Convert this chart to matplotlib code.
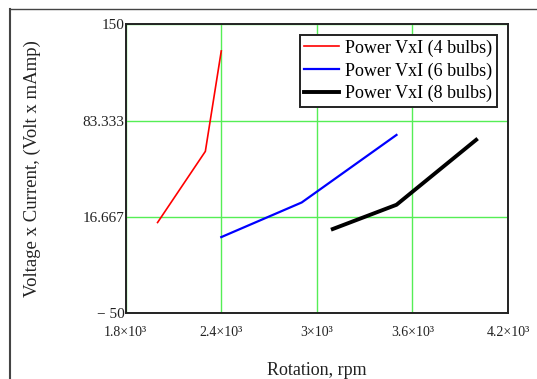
import matplotlib
matplotlib.use('Agg')
import matplotlib.pyplot as plt
from matplotlib.lines import Line2D

plt.rcParams['font.family'] = ['Liberation Serif', 'DejaVu Serif']

# data
rpm_4 = [2000, 2300, 2400]
pow_4 = [12.7, 62.0, 131.6]
rpm_6 = [2400, 2905, 3500]
pow_6 = [2.6, 26.6, 73.4]
rpm_8 = [3100, 3500, 4000]
pow_8 = [8.2, 25.0, 70.0]

labels = ['Power VxI (4 bulbs)', 'Power VxI (6 bulbs)', 'Power VxI (8 bulbs)']
x_ticks = [1800, 2400, 3000, 3600, 4200]
x_ticklabels = ['1.8×10³', '2.4×10³', '3×10³', '3.6×10³', '4.2×10³']
y_ticks = [-50, 16.667, 83.333, 150]
y_ticklabels = ['− 50', '16.667', '83.333', '150']

W, H = 537, 379
fig = plt.figure(figsize=(W / 100, H / 100), dpi=100)
ax = fig.add_axes([125.7 / W, 1 - 313 / H, (508 - 125.7) / W, (313 - 24.4) / H])

ax.plot(rpm_4, pow_4, color='#ff0000', lw=1.2, label=labels[0])
ax.plot(rpm_6, pow_6, color='#0000ff', lw=1.6, label=labels[1])
ax.plot(rpm_8, pow_8, color='black', lw=2.8, label=labels[2])

ax.set_xlim(1800, 4200)
ax.set_ylim(-50, 150)
ax.set_xticks(x_ticks)
ax.set_xticklabels(x_ticklabels, fontsize=10, color='#222222')
ax.set_yticks(y_ticks)
ax.set_yticklabels(y_ticklabels, fontsize=11, color='#222222')
ax.tick_params(length=0)
ax.tick_params(axis='x', pad=9)
ax.tick_params(axis='y', pad=1)
ax.grid(True, color='#55ee55', lw=1.0)
ax.set_axisbelow(True)
for sp in ax.spines.values():
    sp.set_linewidth(1.4)
    sp.set_color('#222222')

ax.set_xlabel('Rotation, rpm', fontsize=13, labelpad=17, color='#222222')
ax.set_ylabel('Voltage x Current, (Volt x mAmp)', fontsize=13.5, labelpad=30, color='#222222')

leg = ax.legend(loc='upper right', bbox_to_anchor=(0.9704, 0.9633), borderaxespad=0,
                fontsize=13, fancybox=False, framealpha=1, edgecolor='#222222',
                handlelength=1.9, handletextpad=0.35, labelspacing=0.3, borderpad=0.25)
leg.get_frame().set_linewidth(1.4)

# outer frame (top and left edges visible)
fig.add_artist(Line2D([10 / W, 1], [1 - 9 / H, 1 - 9 / H], transform=fig.transFigure,
                      color='#444444', lw=1.0))
fig.add_artist(Line2D([10 / W, 10 / W], [1 - 9 / H, 0], transform=fig.transFigure,
                      color='#444444', lw=1.5))

fig.savefig('out.png', dpi=100)
